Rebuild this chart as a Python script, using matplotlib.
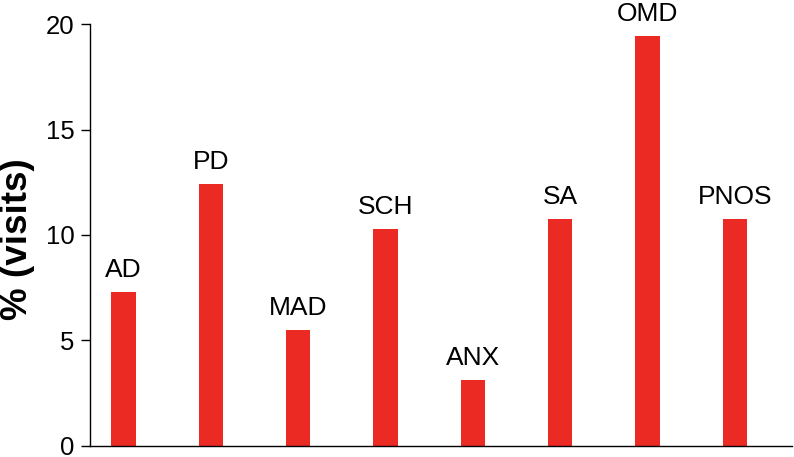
import matplotlib.pyplot as plt
import numpy as np

# categories and values
categories = ["AD", "PD", "MAD", "SCH", "ANX", "SA", "OMD", "PNOS"]
visits_pct = [7.3, 12.4, 5.5, 10.3, 3.1, 10.75, 19.45, 10.75]
y_ticks = [0, 5, 10, 15, 20]


def main():
    plt.rcParams['font.family'] = ['Liberation Sans', 'DejaVu Sans']

    fig = plt.figure(figsize=(7.94, 4.57), dpi=100)
    ax = fig.add_axes([0.1134, 0.025, 0.884, 0.9218])

    x = np.arange(len(categories))
    bars = ax.bar(x, visits_pct, width=0.28, color="#ec2a24")

    # labels above each bar
    for rect, name in zip(bars, categories):
        ax.annotate(name, (rect.get_x() + rect.get_width() / 2, rect.get_height()),
                    xytext=(0, 10.8), textcoords="offset points",
                    ha="center", va="baseline", fontsize=19)

    ax.set_xlim(-0.385, 7.655)
    ax.set_ylim(0, 20)
    ax.set_yticks(y_ticks)
    ax.tick_params(axis="y", labelsize=18.5, length=6.2, width=1, pad=5)
    ax.set_xticks([])

    ax.spines["top"].set_visible(False)
    ax.spines["right"].set_visible(False)
    ax.spines["left"].set_linewidth(1)
    ax.spines["bottom"].set_linewidth(1)

    ax.set_ylabel("% (visits)", fontsize=26.5, fontweight="bold")
    ax.yaxis.set_label_coords(-0.079, 0.49)

    fig.savefig("out.png", dpi=100)


if __name__ == "__main__":
    main()
